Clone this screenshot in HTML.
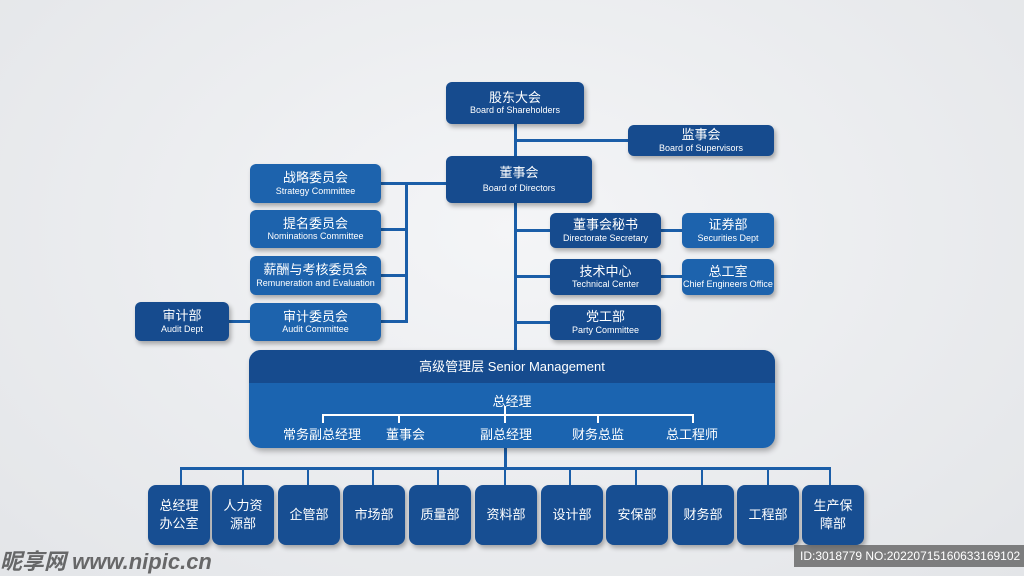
<!DOCTYPE html>
<html><head><meta charset="utf-8"><style>
body{margin:0;width:1024px;height:576px;overflow:hidden;background:radial-gradient(ellipse at 50% 40%,#f4f5f7,#e3e5e8);font-family:"Liberation Sans","Noto Sans CJK SC",sans-serif;position:relative}
.b{position:absolute;color:#fff;text-align:center;border-radius:6px;box-shadow:2px 3px 5px rgba(0,0,0,.3);display:flex;flex-direction:column;justify-content:center;line-height:1.2}
.d{background:#164b8e}.l{background:#1d63ad}
.b .c{font-size:13px}.b .e{font-size:9px}
.h{position:absolute;background:#1b5ea8}
.bt{position:absolute;top:485px;width:62px;height:60px;background:#174e92;color:#fff;border-radius:8px;box-shadow:2px 3px 5px rgba(0,0,0,.3);display:flex;align-items:center;justify-content:center;text-align:center;font-size:13px;line-height:1.35}
</style></head><body>
<!-- lines -->
<div class="h" style="left:514px;top:124px;width:3px;height:228px"></div>
<div class="h" style="left:515px;top:139px;width:113px;height:3px"></div>
<div class="h" style="left:381px;top:182px;width:66px;height:3px"></div>
<div class="h" style="left:405px;top:182px;width:3px;height:141px"></div>
<div class="h" style="left:381px;top:228px;width:26px;height:3px"></div>
<div class="h" style="left:381px;top:274px;width:26px;height:3px"></div>
<div class="h" style="left:381px;top:320px;width:26px;height:3px"></div>
<div class="h" style="left:229px;top:320px;width:22px;height:3px"></div>
<div class="h" style="left:515px;top:229px;width:36px;height:3px"></div>
<div class="h" style="left:515px;top:275px;width:36px;height:3px"></div>
<div class="h" style="left:515px;top:321px;width:36px;height:3px"></div>
<div class="h" style="left:661px;top:229px;width:22px;height:3px"></div>
<div class="h" style="left:661px;top:275px;width:22px;height:3px"></div>
<div class="h" style="left:504px;top:447px;width:3px;height:22px"></div>
<div class="h" style="left:180px;top:467px;width:651px;height:3px"></div>

<div class="b d" style="left:446px;top:82px;width:138px;height:42px"><span class="c">股东大会</span><span class="e">Board of Shareholders</span></div>
<div class="b d" style="left:628px;top:125px;width:146px;height:31px"><span class="c">监事会</span><span class="e">Board of Supervisors</span></div>
<div class="b d" style="left:446px;top:156px;width:146px;height:47px"><span class="c">董事会</span><span class="e" style="margin-top:3px">Board of Directors</span></div>
<div class="b l" style="left:250px;top:164px;width:131px;height:39px"><span class="c">战略委员会</span><span class="e">Strategy Committee</span></div>
<div class="b l" style="left:250px;top:210px;width:131px;height:38px"><span class="c">提名委员会</span><span class="e">Nominations Committee</span></div>
<div class="b l" style="left:250px;top:256px;width:131px;height:39px"><span class="c">薪酬与考核委员会</span><span class="e">Remuneration and Evaluation</span></div>
<div class="b l" style="left:250px;top:303px;width:131px;height:38px"><span class="c">审计委员会</span><span class="e">Audit Committee</span></div>
<div class="b d" style="left:135px;top:302px;width:94px;height:39px"><span class="c">审计部</span><span class="e">Audit Dept</span></div>
<div class="b d" style="left:550px;top:213px;width:111px;height:35px"><span class="c">董事会秘书</span><span class="e">Directorate Secretary</span></div>
<div class="b d" style="left:550px;top:259px;width:111px;height:36px"><span class="c">技术中心</span><span class="e">Technical Center</span></div>
<div class="b d" style="left:550px;top:305px;width:111px;height:35px"><span class="c">党工部</span><span class="e">Party Committee</span></div>
<div class="b l" style="left:682px;top:213px;width:92px;height:35px"><span class="c">证券部</span><span class="e">Securities Dept</span></div>
<div class="b l" style="left:682px;top:259px;width:92px;height:36px"><span class="c">总工室</span><span class="e">Chief Engineers Office</span></div>

<div style="position:absolute;left:249px;top:350px;width:526px;height:98px;border-radius:12px;overflow:hidden;background:#1b64b0;box-shadow:2px 3px 6px rgba(0,0,0,.3);color:#fff">
<div style="height:33px;background:#164b8e;text-align:center;line-height:33px;font-size:13px">高级管理层 Senior Management</div>
<div style="position:absolute;left:0;width:526px;top:41px;text-align:center;font-size:13px">总经理</div>
<div style="position:absolute;left:255px;top:56px;width:2px;height:10px;background:#fff"></div>
<div style="position:absolute;left:73px;top:64px;width:372px;height:2px;background:#fff"></div>
<div style="position:absolute;left:73px;top:64px;width:2px;height:9px;background:#fff"></div>
<div style="position:absolute;left:149px;top:64px;width:2px;height:9px;background:#fff"></div>
<div style="position:absolute;left:255px;top:64px;width:2px;height:9px;background:#fff"></div>
<div style="position:absolute;left:348px;top:64px;width:2px;height:9px;background:#fff"></div>
<div style="position:absolute;left:443px;top:64px;width:2px;height:9px;background:#fff"></div>
<div style="position:absolute;top:74px;left:0;width:526px;font-size:13px">
<span style="position:absolute;left:34px">常务副总经理</span><span style="position:absolute;left:137px">董事会</span><span style="position:absolute;left:231px">副总经理</span><span style="position:absolute;left:323px">财务总监</span><span style="position:absolute;left:417px">总工程师</span></div>
</div>

<div class="h" style="left:180px;top:467px;width:2px;height:18px"></div>
<div class="h" style="left:242px;top:467px;width:2px;height:18px"></div>
<div class="h" style="left:307px;top:467px;width:2px;height:18px"></div>
<div class="h" style="left:372px;top:467px;width:2px;height:18px"></div>
<div class="h" style="left:437px;top:467px;width:2px;height:18px"></div>
<div class="h" style="left:504px;top:467px;width:2px;height:18px"></div>
<div class="h" style="left:569px;top:467px;width:2px;height:18px"></div>
<div class="h" style="left:635px;top:467px;width:2px;height:18px"></div>
<div class="h" style="left:701px;top:467px;width:2px;height:18px"></div>
<div class="h" style="left:767px;top:467px;width:2px;height:18px"></div>
<div class="h" style="left:829px;top:467px;width:2px;height:18px"></div>

<div class="bt" style="left:148px">总经理<br>办公室</div>
<div class="bt" style="left:212px">人力资<br>源部</div>
<div class="bt" style="left:278px">企管部</div>
<div class="bt" style="left:343px">市场部</div>
<div class="bt" style="left:409px">质量部</div>
<div class="bt" style="left:475px">资料部</div>
<div class="bt" style="left:541px">设计部</div>
<div class="bt" style="left:606px">安保部</div>
<div class="bt" style="left:672px">财务部</div>
<div class="bt" style="left:737px">工程部</div>
<div class="bt" style="left:802px">生产保<br>障部</div>

<div style="position:absolute;left:0;top:544px;font-size:22px;font-weight:bold;color:rgba(60,60,60,.75);font-style:italic">昵享网 www.nipic.cn</div>
<div style="position:absolute;left:794px;top:545px;width:230px;height:22px;background:rgba(90,90,90,.75);color:#fff;font-size:12px;line-height:22px;padding-left:6px">ID:3018779 NO:20220715160633169102</div>
</body></html>
